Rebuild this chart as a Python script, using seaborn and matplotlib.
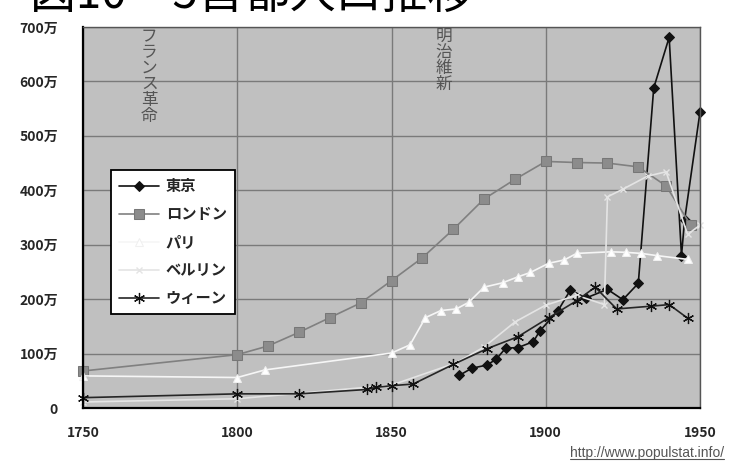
import matplotlib
matplotlib.use("Agg")
import matplotlib.pyplot as plt
import seaborn as sns
import pandas as pd
from matplotlib.lines import Line2D

# Population figures in units of 万 (10,000 people)
tokyo_years = [1872, 1876, 1881, 1884, 1887, 1891, 1896, 1898, 1904, 1908,
               1913, 1920, 1925, 1930, 1935, 1940, 1944, 1945, 1950]
tokyo_pop = [60, 73, 79, 90, 110, 111, 122, 141, 179, 217,
             202, 218, 199, 229, 588, 681, 280, 345, 544]

london_years = [1750, 1800, 1810, 1820, 1830, 1840, 1850, 1860, 1870, 1880,
                1890, 1900, 1910, 1920, 1930, 1939, 1947]
london_pop = [68, 98, 114, 139, 166, 193, 234, 276, 328, 384,
              420, 453, 451, 450, 443, 408, 336]

paris_years = [1750, 1800, 1809, 1850, 1856, 1861, 1866, 1871, 1875, 1880,
               1886, 1891, 1895, 1901, 1906, 1910, 1921, 1926, 1931, 1936, 1946]
paris_pop = [59, 56, 70, 101, 116, 166, 179, 182, 194, 222,
             230, 241, 249, 266, 272, 284, 287, 286, 284, 280, 273]

berlin_years = [1750, 1800, 1850, 1871, 1880, 1890, 1900, 1910, 1919, 1920,
                1925, 1933, 1939, 1946, 1950]
berlin_pop = [11, 17, 42, 83, 112, 158, 189, 207, 190, 388,
              402, 426, 434, 319, 336]

wien_years = [1750, 1800, 1820, 1842, 1845, 1850, 1857, 1870, 1881, 1891,
              1901, 1910, 1916, 1923, 1934, 1940, 1946]
wien_pop = [19, 26, 26, 34, 38, 41, 44, 80, 109, 131,
            166, 197, 222, 182, 187, 190, 165]

city_names = ["東京", "ロンドン", "パリ", "ベルリン", "ウィーン"]
y_ticks = [0, 100, 200, 300, 400, 500, 600, 700]
y_tick_labels = ["0", "100万", "200万", "300万", "400万", "500万", "600万", "700万"]
x_ticks = [1750, 1800, 1850, 1900, 1950]
x_tick_labels = ["1750", "1800", "1850", "1900", "1950"]

title_text = "図10　5首都人口推移"
event_labels = [("フランス革命", 1771.5), ("明治維新", 1867.0)]
source_text = "http://www.populstat.info/"

sns.set_style("white")
plt.rcParams["font.family"] = ["Noto Sans CJK JP", "DejaVu Sans"]

series = [
    (tokyo_years, tokyo_pop, dict(color="#111111", marker="D", markersize=5.5,
                                  markerfacecolor="#111111", markeredgecolor="#111111")),
    (london_years, london_pop, dict(color="#808080", marker="s", markersize=6.5,
                                    markerfacecolor="#8c8c8c", markeredgecolor="#777777")),
    (paris_years, paris_pop, dict(color="#f6f6f6", marker="^", markersize=6,
                                  markerfacecolor="#ffffff", markeredgecolor="#f0f0f0")),
    (berlin_years, berlin_pop, dict(color="#e4e4e4", marker="x", markersize=5,
                                    markerfacecolor="#e4e4e4", markeredgecolor="#e4e4e4",
                                    markeredgewidth=1.0)),
    (wien_years, wien_pop, dict(color="#262626", marker=(6, 2, 0), markersize=8,
                                markerfacecolor="#111111", markeredgecolor="#111111",
                                markeredgewidth=0.9)),
]

fig = plt.figure(figsize=(7.31, 4.67), dpi=100)
fig.patch.set_facecolor("white")
ax = fig.add_axes([83 / 731, 1 - 408 / 467, 617 / 731, 381 / 467])
ax.set_facecolor("#c0c0c0")

for (yrs, vals, style), name in zip(series, city_names):
    df = pd.DataFrame({"year": yrs, "pop": vals})
    sns.lineplot(data=df, x="year", y="pop", ax=ax, label=name, sort=False,
                 linewidth=1.2, clip_on=False, **style)

ax.set_xlim(1750, 1950)
ax.set_ylim(0, 700)
ax.set_xticks(x_ticks)
ax.set_xticklabels(x_tick_labels, fontsize=10, fontweight="bold")
ax.set_yticks(y_ticks)
ax.set_yticklabels(y_tick_labels, fontsize=10, fontweight="bold")
ax.tick_params(axis="both", length=0)
ax.tick_params(axis="x", pad=13)
ax.tick_params(axis="y", pad=18)
ax.set_xlabel("")
ax.set_ylabel("")

ax.grid(True, color="#7a7a7a", linewidth=1.0)
ax.set_axisbelow(True)
for side in ["left", "bottom"]:
    ax.spines[side].set_color("#000000")
    ax.spines[side].set_linewidth(1.6)
for side in ["top", "right"]:
    ax.spines[side].set_color("#555555")
    ax.spines[side].set_linewidth(1.0)

# Historical events, written vertically
for label, yr in event_labels:
    ax.text(yr, 698, "\n".join(label), ha="center", va="top", fontsize=12,
            color="#555555", linespacing=0.92, clip_on=False)

leg = ax.legend(loc="upper left", bbox_to_anchor=(0.045, 0.625), borderaxespad=0,
                frameon=True, fancybox=False, edgecolor="#000000", facecolor="#ffffff",
                framealpha=1.0, handlelength=2.6, labelspacing=0.78,
                borderpad=0.55, handletextpad=0.45,
                prop={"family": ["Noto Sans CJK JP"], "weight": "bold", "size": 11})
leg.get_frame().set_linewidth(1.3)

fig.text(30 / 731, 1 - 8 / 467, title_text, fontsize=33, ha="left",
         va="baseline", color="#000000")

src = fig.text(724 / 731, 1 - 457 / 467, source_text, fontsize=10,
               ha="right", va="baseline", color="#555555",
               family=["Liberation Sans", "DejaVu Sans"])
fig.canvas.draw()
bb = src.get_window_extent()
fig.add_artist(Line2D([bb.x0, bb.x1], [bb.y0 + 1, bb.y0 + 1],
                      transform=None, color="#555555", linewidth=0.8))

fig.savefig("out.png", dpi=100)
